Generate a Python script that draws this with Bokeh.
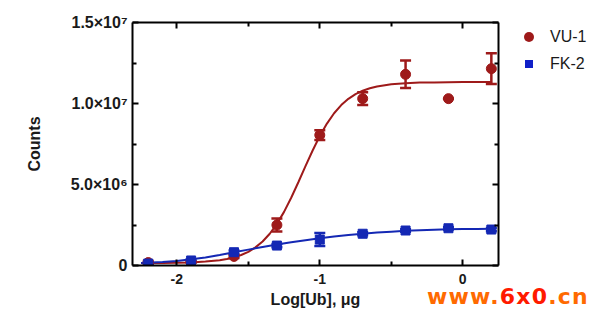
from bokeh.plotting import figure
from bokeh.models import (ColumnDataSource, Whisker, TeeHead, FixedTicker, LinearAxis,
                          Range1d, Div)
from bokeh.layouts import column
from bokeh.embed import file_html
from bokeh.resources import INLINE

# ---- data (counts in millions) ----
log_dose = [-2.2, -1.9, -1.6, -1.3, -1.0, -0.7, -0.4, -0.1, 0.2]
vu1_counts = [0.18, 0.22, 0.56, 2.50, 8.05, 10.30, 11.80, 10.30, 12.15]
vu1_err = [0.10, 0.05, 0.10, 0.40, 0.30, 0.40, 0.85, 0.00, 0.95]
fk2_counts = [0.12, 0.31, 0.82, 1.23, 1.60, 1.96, 2.16, 2.30, 2.22]
fk2_err = [0.08, 0.08, 0.10, 0.10, 0.40, 0.10, 0.08, 0.08, 0.10]

vu1_fit_x = [-2.25, -2.1, -2.0, -1.9, -1.8, -1.7, -1.65, -1.6, -1.55, -1.5, -1.45, -1.4,
             -1.35, -1.3, -1.25, -1.2, -1.15, -1.1, -1.05, -1.0, -0.95, -0.9, -0.85, -0.8,
             -0.75, -0.7, -0.65, -0.6, -0.5, -0.4, -0.3, -0.2, -0.1, 0.0, 0.1, 0.2]
vu1_fit_y = [0.15, 0.16, 0.17, 0.19, 0.24, 0.32, 0.40, 0.50, 0.65, 0.84, 1.12, 1.48,
             1.96, 2.57, 3.31, 4.18, 5.14, 6.13, 7.10, 7.99, 8.76, 9.40, 9.90, 10.29,
             10.58, 10.79, 10.94, 11.05, 11.19, 11.25, 11.29, 11.30, 11.31, 11.32, 11.32, 11.32]
fk2_fit_x = [-2.25, -2.1, -2.0, -1.9, -1.8, -1.7, -1.6, -1.5, -1.4, -1.3, -1.2, -1.1, -1.0,
             -0.9, -0.8, -0.7, -0.6, -0.5, -0.4, -0.3, -0.2, -0.1, 0.0, 0.1, 0.2]
fk2_fit_y = [0.15, 0.22, 0.28, 0.38, 0.50, 0.65, 0.82, 0.98, 1.14, 1.29, 1.43, 1.56, 1.68,
             1.79, 1.88, 1.96, 2.03, 2.09, 2.14, 2.18, 2.21, 2.23, 2.25, 2.26, 2.27]

x_ticks = [-2, -1, 0]
x_minor = [-1.5, -0.5]
x_tick_labels = ["-2", "-1", "0"]
y_ticks = [0, 5000000, 10000000, 15000000]
y_minor = [2500000, 7500000, 12500000]
y_tick_labels = ["0", "5.0×10⁶", "1.0×10⁷", "1.5×10⁷"]
series_names = ["VU-1", "FK-2"]

M = 1e6
RED = "#9E1A1A"
BLUE = "#1428B4"
FONT = "Liberation Sans"
W, H = 592, 313

p = figure(width=W, height=H, output_backend="svg", toolbar_location=None,
           x_range=Range1d(-2.31, 0.25), y_range=Range1d(0, 1.5e7),
           min_border_left=132, min_border_top=22, min_border_right=94, min_border_bottom=48)
p.xgrid.visible = False
p.ygrid.visible = False
p.outline_line_color = None
p.background_fill_color = "white"

xt = FixedTicker(ticks=x_ticks, minor_ticks=x_minor)
yt = FixedTicker(ticks=y_ticks, minor_ticks=y_minor)

def style(ax, label_size="14px"):
    ax.axis_line_width = 2
    ax.axis_line_color = "black"
    ax.major_tick_in = 6
    ax.major_tick_out = 0
    ax.minor_tick_in = 4
    ax.minor_tick_out = 0
    ax.major_tick_line_width = 2
    ax.minor_tick_line_width = 2
    ax.major_tick_line_color = "black"
    ax.minor_tick_line_color = "black"
    ax.major_label_text_font = FONT
    ax.major_label_text_font_style = "bold"
    ax.major_label_text_font_size = label_size
    ax.major_label_text_color = "#1a1a1a"
    ax.axis_label_text_font = FONT
    ax.axis_label_text_font_style = "bold"
    ax.axis_label_text_font_size = "16px"
    ax.axis_label_text_color = "#1a1a1a"

xa = p.xaxis[0]
xa.ticker = xt
xa.major_label_overrides = dict(zip(x_ticks, x_tick_labels))
xa.axis_label = "Log[Ub], μg"
style(xa)
xa.major_label_standoff = 8
xa.axis_label_standoff = 4

ya = p.yaxis[0]
ya.ticker = yt
ya.major_label_overrides = dict(zip(y_ticks, y_tick_labels))
ya.axis_label = "Counts"
style(ya, "16px")
ya.major_label_standoff = 5
ya.axis_label_standoff = 25

top = LinearAxis(ticker=xt)
style(top, "1px")
top.major_label_text_alpha = 0
top.major_label_standoff = 0
p.add_layout(top, "above")
right = LinearAxis(ticker=yt)
style(right, "1px")
right.major_label_text_alpha = 0
right.major_label_standoff = 0
p.add_layout(right, "right")

# fit curves
p.line(vu1_fit_x, [v * M for v in vu1_fit_y], line_color=RED, line_width=2)
p.line(fk2_fit_x, [v * M for v in fk2_fit_y], line_color=BLUE, line_width=2)

src_r = ColumnDataSource(dict(x=log_dose, y=[v * M for v in vu1_counts],
                              lo=[(v - e) * M for v, e in zip(vu1_counts, vu1_err)],
                              hi=[(v + e) * M for v, e in zip(vu1_counts, vu1_err)]))
src_b = ColumnDataSource(dict(x=log_dose, y=[v * M for v in fk2_counts],
                              lo=[(v - e) * M for v, e in zip(fk2_counts, fk2_err)],
                              hi=[(v + e) * M for v, e in zip(fk2_counts, fk2_err)]))

for src, col in ((src_r, RED), (src_b, BLUE)):
    w = Whisker(base="x", upper="hi", lower="lo", source=src, dimension="height",
                line_color=col, line_width=2.5,
                upper_head=TeeHead(size=11, line_color=col, line_width=2.5),
                lower_head=TeeHead(size=11, line_color=col, line_width=2.5))
    p.add_layout(w)

p.scatter("x", "y", source=src_r, marker="circle", size=10, fill_color=RED, line_color=RED)
p.scatter("x", "y", source=src_b, marker="square", size=9, fill_color=BLUE, line_color=BLUE)

# legend (outside the frame) and watermark, as an HTML overlay
def box(left, top, w, h, extra):
    return (f'<div style="position:absolute;left:{left}px;top:{top}px;width:{w}px;'
            f'height:{h}px;{extra}"></div>')

def txt(left, top, s, extra):
    return (f'<div style="position:absolute;left:{left}px;top:{top}px;'
            f'white-space:nowrap;{extra}">{s}</div>')

leg_font = f"font-family:'{FONT}';font-size:16px;line-height:20px;color:#1a1a1a;"
overlay = [
    box(524, 32, 10, 10, f"border-radius:50%;background:{RED};"),
    txt(550, 27, series_names[0], leg_font),
    box(525, 60, 8, 8, "background:#1020C8;"),
    txt(550, 54, series_names[1], leg_font),
]
wm_parts = ["www.", "6x0", ".cn"]
wm_colors = ["#FF6A00", "#FF1A00", "#FF6A00"]
wm_html = "".join(f'<span style="color:{c}">{t}</span>' for t, c in zip(wm_parts, wm_colors))
overlay.append(txt(427, 286, wm_html,
                   "font-family:'DejaVu Sans';font-weight:bold;font-size:22px;"
                   "line-height:22px;letter-spacing:1.2px;"))

div = Div(text=f'<div style="position:relative;width:{W}px;height:{H}px;">' + "".join(overlay) + "</div>",
          width=W, height=H, margin=(-H, 0, 0, 0),
          styles={"position": "relative", "z-index": "5"})

open("out.html", "w").write(file_html(column(p, div, spacing=0), INLINE))
